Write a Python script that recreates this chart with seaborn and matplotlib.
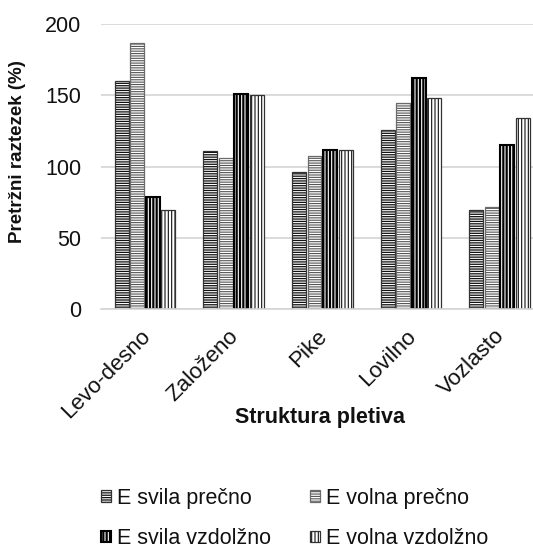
import matplotlib
matplotlib.use("Agg")
import matplotlib.pyplot as plt
import matplotlib.transforms as mtransforms
from matplotlib.colors import to_rgba
import pandas as pd
import seaborn as sns

# Data: elongation at break per knit structure
categories = ["Levo-desno", "Založeno", "Pike", "Lovilno", "Vozlasto"]
svila_precno = [160, 111, 96, 126, 70]
volna_precno = [187, 106, 107.5, 145, 72]
svila_vzdolzno = [79, 151, 112, 162, 115]
volna_vzdolzno = [70, 150, 112, 148, 134]
series_names = ["E svila prečno", "E volna prečno", "E svila vzdolžno", "E volna vzdolžno"]
y_ticks = [0, 50, 100, 150, 200]

series_values = [svila_precno, volna_precno, svila_vzdolzno, volna_vzdolzno]
df = pd.DataFrame(
    [(c, name, v) for name, vals in zip(series_names, series_values)
     for c, v in zip(categories, vals)],
    columns=["Struktura", "Serija", "Raztezek"],
)

sns.set_style("white")
plt.rcParams["font.family"] = ["Liberation Sans", "DejaVu Sans"]
plt.rcParams["hatch.linewidth"] = 0.8

fig = plt.figure(figsize=(5.33, 5.51), dpi=100)
ax = fig.add_axes([0.1886, 0.4383, 0.832, 0.5181])

sns.barplot(data=df, x="Struktura", y="Raztezek", hue="Serija",
            hue_order=series_names, order=categories, width=0.7, gap=0.1,
            ax=ax, legend=False)

# face, hatch, hatch colour, edge colour, edge width
styles = [
    ("#111111", "-------", "#ffffff", "#333333", 0.9),
    ("#ffffff", "-------", "#555555", "#6a6a6a", 0.9),
    ("#000000", "|||||", "#ffffff", "#000000", 1.5),
    ("#ffffff", "|||||", "#111111", "#333333", 0.9),
]
for cont, (fc, hatch, hc, ec, lw) in zip(ax.containers, styles):
    for p in cont.patches:
        p.set_facecolor(fc)
        p.set_edgecolor(ec)
        p.set_linewidth(lw)
        p.set_hatch(hatch)
        p._hatch_color = to_rgba(hc)

ax.set_ylim(0, 200)
ax.set_xlim(-0.5, len(categories) - 0.5)
ax.set_yticks(y_ticks)
ax.yaxis.grid(True, color="#d4d4d4", linewidth=1.2)
ax.set_axisbelow(True)
for side in ["left", "right", "top"]:
    ax.spines[side].set_visible(False)
ax.spines["bottom"].set_color("#d4d4d4")
ax.spines["bottom"].set_linewidth(1.2)
ax.tick_params(axis="y", length=0, pad=14, labelsize=15.5, labelcolor="#111111")
ax.tick_params(axis="x", length=0, pad=17, labelsize=16, labelcolor="#111111")

for lab in ax.get_xticklabels():
    lab.set_rotation(45)
    lab.set_ha("right")
    lab.set_va("center")
    lab.set_rotation_mode("anchor")
    lab.set_transform(lab.get_transform() +
                      mtransforms.ScaledTranslation(0.02, 0, fig.dpi_scale_trans))

ax.set_xlabel("")
ax.set_ylabel("Pretržni raztezek (%)", fontsize=13.5, fontweight="bold", color="#111111")
ax.yaxis.set_label_coords(-0.168, 0.552)
fig.text(320 / 533, 1 - 418 / 551, "Struktura pletiva", fontsize=15.5,
         fontweight="bold", ha="center", va="center", color="#111111")

handles = [cont.patches[0] for cont in ax.containers]
order = [0, 2, 1, 3]
fig.legend([handles[i] for i in order], [series_names[i] for i in order],
           ncol=2, loc="center", bbox_to_anchor=(0.553, 0.059), frameon=False,
           fontsize=15.5, handlelength=0.45, handleheight=0.45, handletextpad=0.3,
           columnspacing=1.8, labelspacing=0.9, labelcolor="#111111")

fig.savefig("out.png", dpi=100)
